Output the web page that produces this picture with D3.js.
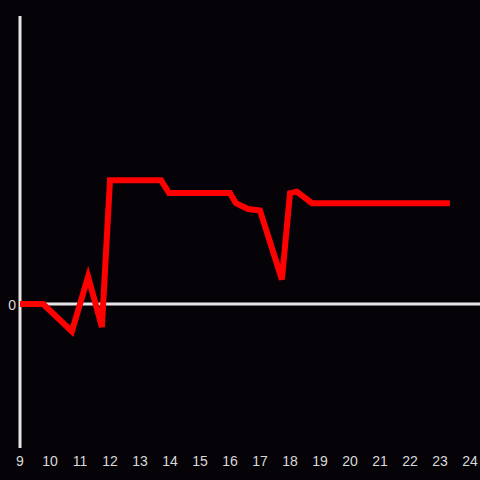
<!DOCTYPE html>
<html>
<head>
<meta charset="utf-8">
<script src="https://cdn.jsdelivr.net/npm/d3@7"></script>
<style>
  body { margin: 0; background: #050308; }
  svg { display: block; }
</style>
</head>
<body>
<script>
// hours along the x axis and the series value at each one
var hours = [9, 9.77, 10.73, 11.27, 11.73, 12.0, 13.7, 13.97, 16.0, 16.2, 16.6, 17.0, 17.73, 18.0, 18.23, 18.73, 23.33];
var values = [0, 0, -19, 19, -16, 86, 86, 77, 77, 70, 66, 65, 17, 77, 78, 70, 70];
var xTicks = d3.range(9, 25);
var yTicks = [0];

var width = 480, height = 480;

var svg = d3.select("body").append("svg")
  .attr("width", width)
  .attr("height", height);

svg.append("rect")
  .attr("width", width)
  .attr("height", height)
  .attr("fill", "#050308");

var x = d3.scaleLinear().domain([9, 24]).range([20, 470]);
var y = d3.scaleLinear().domain([-100, 200]).range([448, 16]);

// y axis line
svg.append("line")
  .attr("x1", x(9)).attr("x2", x(9))
  .attr("y1", y(200)).attr("y2", y(-100))
  .attr("stroke", "#e6e6e6")
  .attr("stroke-width", 3);

// zero line
svg.append("line")
  .attr("x1", x(9)).attr("x2", width)
  .attr("y1", y(0)).attr("y2", y(0))
  .attr("stroke", "#e6e6e6")
  .attr("stroke-width", 3);

// tick labels
svg.selectAll(".xt")
  .data(xTicks)
  .enter()
  .append("text")
  .attr("class", "xt")
  .attr("x", function (d) { return x(d); })
  .attr("y", 466)
  .attr("text-anchor", "middle")
  .attr("fill", "#d9d9d9")
  .attr("font-family", "Liberation Sans, Arial, sans-serif")
  .attr("font-size", 14)
  .text(function (d) { return d; });

svg.selectAll(".yt")
  .data(yTicks)
  .enter()
  .append("text")
  .attr("class", "yt")
  .attr("x", 16)
  .attr("y", function (d) { return y(d) + 6; })
  .attr("text-anchor", "end")
  .attr("fill", "#d9d9d9")
  .attr("font-family", "Liberation Sans, Arial, sans-serif")
  .attr("font-size", 14)
  .text(function (d) { return d; });

var line = d3.line()
  .x(function (d, i) { return x(hours[i]); })
  .y(function (d) { return y(d); });

svg.append("path")
  .datum(values)
  .attr("d", line)
  .attr("fill", "none")
  .attr("stroke", "#ff0000")
  .attr("stroke-width", 6)
  .attr("stroke-linejoin", "miter");
</script>
</body>
</html>
